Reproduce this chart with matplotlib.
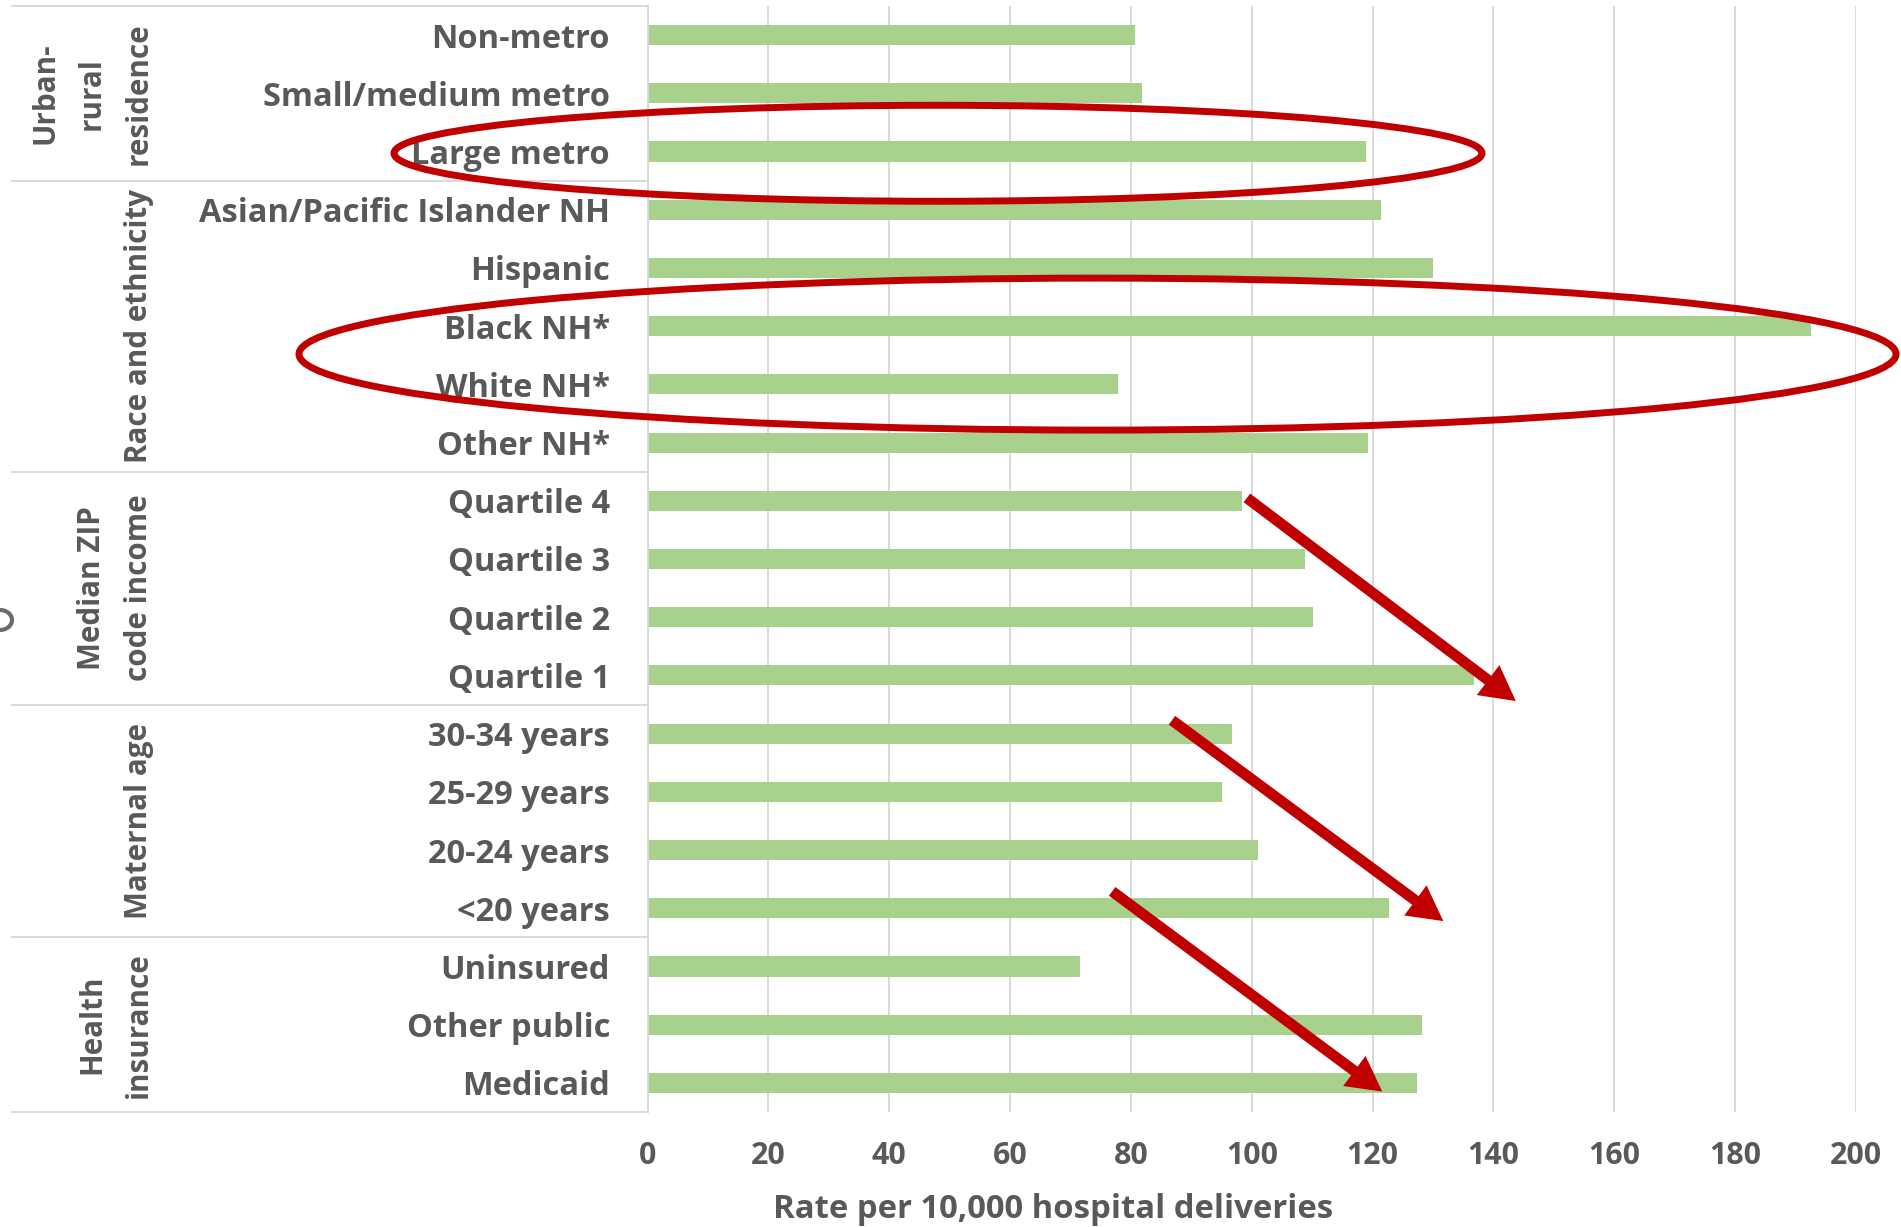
import matplotlib
matplotlib.use('Agg')
import matplotlib.pyplot as plt
import numpy as np
from matplotlib.patches import Ellipse, FancyArrowPatch
from matplotlib.transforms import blended_transform_factory, IdentityTransform

categories = ["Non-metro", "Small/medium metro", "Large metro",
              "Asian/Pacific Islander NH", "Hispanic", "Black NH*", "White NH*", "Other NH*",
              "Quartile 4", "Quartile 3", "Quartile 2", "Quartile 1",
              "30-34 years", "25-29 years", "20-24 years", "<20 years",
              "Uninsured", "Other public", "Medicaid"]
rates = [80.6, 81.8, 118.9,
         121.4, 130.0, 192.6, 77.9, 119.2,
         98.4, 108.8, 110.2, 136.7,
         96.7, 95.0, 101.1, 122.7,
         71.5, 128.1, 127.3]
group_labels = [["Urban-", "rural", "residence"],
                ["Race and ethnicity"],
                ["Median ZIP", "code income"],
                ["Maternal age"],
                ["Health", "insurance"]]
group_sizes = [3, 5, 4, 4, 3]
x_ticks = [0, 20, 40, 60, 80, 100, 120, 140, 160, 180, 200]
x_label = "Rate per 10,000 hospital deliveries"

TEXT = "#595959"
GRID = "#D9D9D9"
BAR = "#A9D18E"
RED = "#C00000"
FONT = "Open Sans"

W, H = 1901, 1227
plt.rcParams['font.family'] = [FONT, 'DejaVu Sans']
plt.rcParams['font.weight'] = 'bold'
fig = plt.figure(figsize=(W / 100, H / 100), dpi=100)
renderer = fig.canvas.get_renderer()


def fit_size(text, target_px, base=20):
    t = fig.text(0, 0, text, fontsize=base, fontweight='bold')
    w = t.get_window_extent(renderer).width
    t.remove()
    return base * target_px / w


cat_fs = fit_size("Asian/Pacific Islander NH", 410)
grp_fs = fit_size("Race and ethnicity", 274)
tick_fs = fit_size("200", 52)
lab_fs = fit_size(x_label, 561)

ax_left, ax_right = 647.5, 1856.0
ax_top, ax_bot = 6.0, 1112.0
ax = fig.add_axes([ax_left / W, 1 - ax_bot / H, (ax_right - ax_left) / W, (ax_bot - ax_top) / H])

y = np.arange(len(categories))
ax.barh(y, rates, height=0.345, color=BAR, zorder=2)
ax.set_xlim(0, 200)
ax.set_ylim(len(categories) - 0.5, -0.5)
ax.set_xticks(x_ticks)
ax.set_xticklabels([str(t) for t in x_ticks])
ax.set_yticks(y)
ax.set_yticklabels(categories)
ax.xaxis.grid(True, color=GRID, linewidth=1.4, zorder=0)
ax.set_axisbelow(True)
for s in ['top', 'right', 'bottom']:
    ax.spines[s].set_visible(False)
ax.spines['left'].set_color(GRID)
ax.spines['left'].set_linewidth(1.4)
ax.tick_params(axis='y', length=0, pad=27, labelsize=cat_fs, labelcolor=TEXT)
ax.tick_params(axis='x', length=0, pad=21, labelsize=tick_fs, labelcolor=TEXT)
for lab in ax.get_yticklabels() + ax.get_xticklabels():
    lab.set_fontweight('bold')

# group separator lines
btrans = blended_transform_factory(ax.transAxes, ax.transData)
x_line_start = (12 - ax_left) / (ax_right - ax_left)
bounds = np.concatenate([[0], np.cumsum(group_sizes)]) - 0.5
for b in bounds:
    ax.plot([x_line_start, 0], [b, b], color=GRID, lw=1.4, transform=btrans, clip_on=False, zorder=1)

# group labels
ftrans = blended_transform_factory(fig.transFigure, ax.transData)
for lines, lo, hi in zip(group_labels, bounds[:-1], bounds[1:]):
    yc = (lo + hi) / 2
    n = len(lines)
    for i, line in enumerate(lines):
        xp = 139 - (n - 1 - i) * 47
        fig.text(xp / W, yc, line, rotation=90, ha='center', va='center',
                 fontsize=grp_fs, fontweight='bold', color=TEXT, transform=ftrans)

fig.text(1053 / W, 1 - 1209 / H, x_label, ha='center', va='center',
         fontsize=lab_fs, fontweight='bold', color=TEXT)

# small clipped mark at the left edge
fig.add_artist(Ellipse((0, H - 620), 24, 20, fill=False, edgecolor='#6b6b6b', lw=3,
                       transform=IdentityTransform()))

# red annotations (data coordinates: x in rate units, y in category index)
px_per_unit = (ax_right - ax_left) / 200
row_px = (ax_bot - ax_top) / len(categories)
ell1 = Ellipse(((938 - ax_left) / px_per_unit, 2.03), 1088 / px_per_unit, 96 / row_px,
               fill=False, edgecolor=RED, lw=5, clip_on=False, zorder=5)
ell2 = Ellipse(((1097.5 - ax_left) / px_per_unit, 5.48), 1597 / px_per_unit, 152 / row_px,
               fill=False, edgecolor=RED, lw=5, clip_on=False, zorder=5)
ax.add_patch(ell1)
ax.add_patch(ell2)

arrows = [((99.2, 7.95), (143.7, 11.44)),
          ((86.8, 11.77), (131.7, 15.22)),
          ((76.9, 14.71), (121.6, 18.15))]
for (x0, y0), (x1, y1) in arrows:
    a = FancyArrowPatch((x0, y0), (x1, y1),
                        arrowstyle='simple,head_length=25,head_width=27,tail_width=7.8',
                        mutation_scale=1, shrinkA=0, shrinkB=0,
                        color=RED, lw=0, clip_on=False, zorder=6)
    ax.add_patch(a)

fig.savefig('out.png', dpi=100)
